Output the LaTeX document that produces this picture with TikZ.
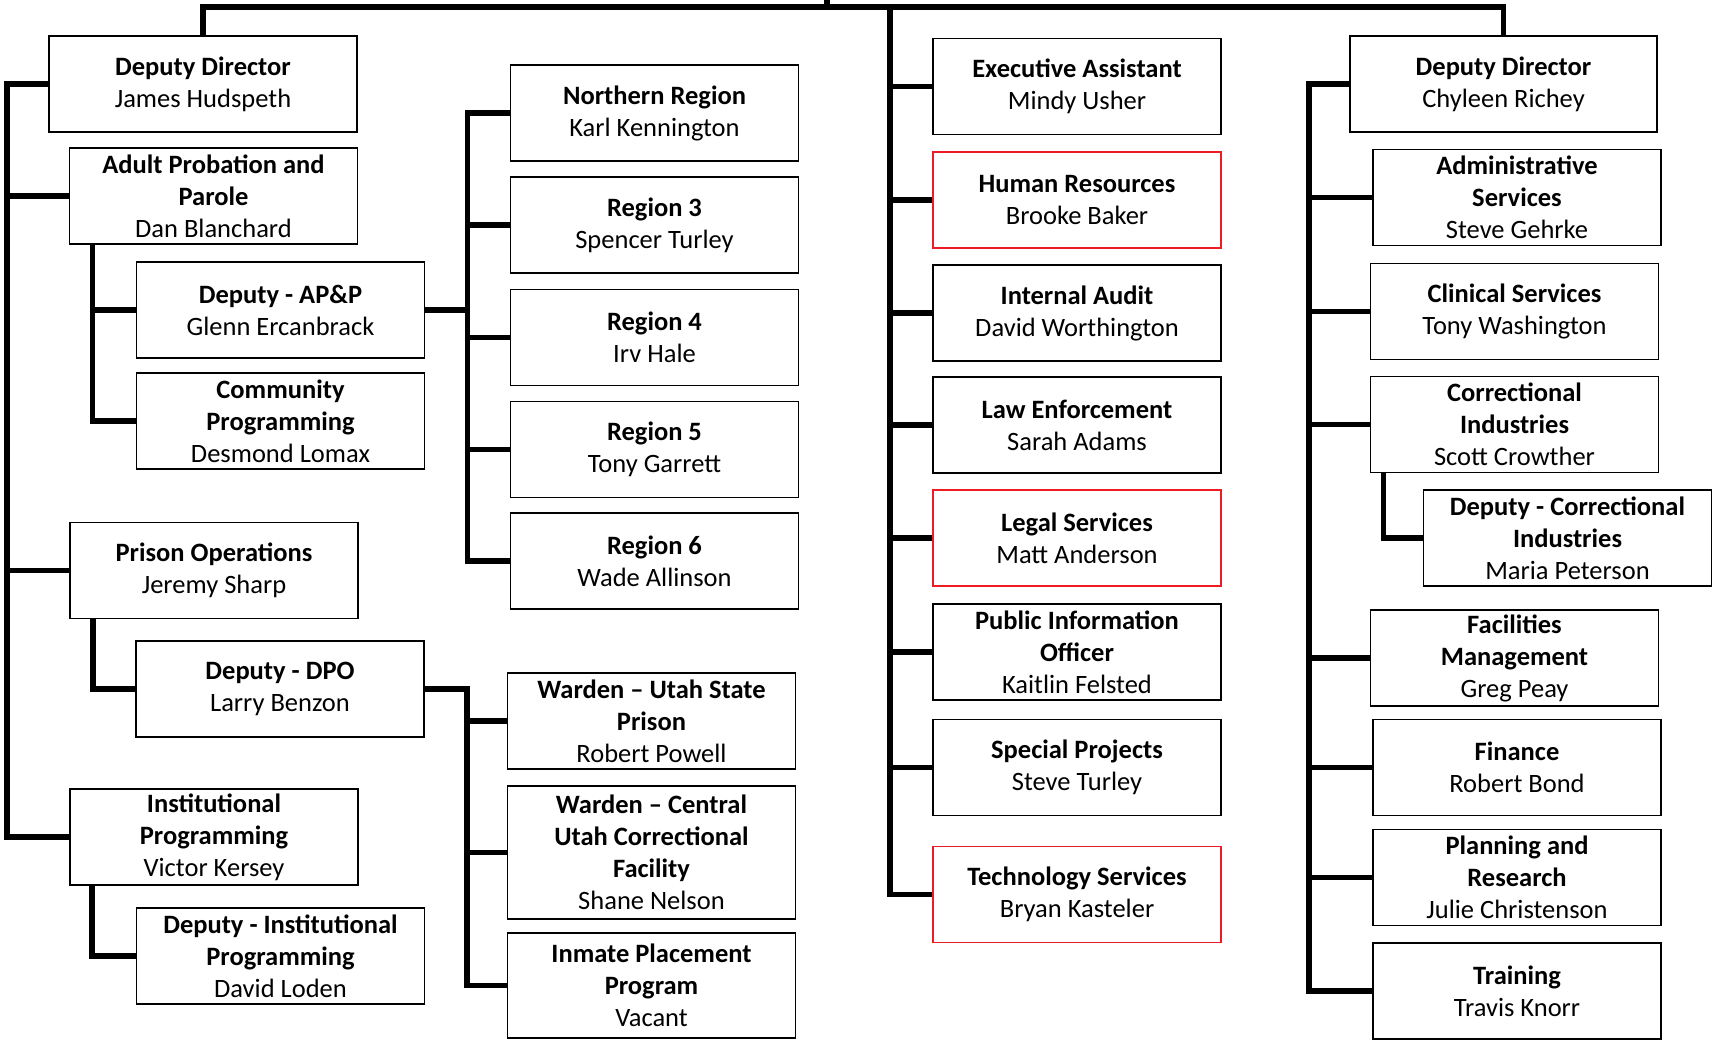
\documentclass[tikz,border=0pt]{standalone}
\usepackage{fontspec}
\setmainfont{Carlito}
\usepackage{xcolor}
\usetikzlibrary{calc, positioning}
\definecolor{boxred}{RGB}{237,28,36}

\begin{document}
\begin{tikzpicture}[x=1pt, y=-1pt,
    unit/.style={draw, line width=1.8pt, minimum width=288pt, minimum height=96pt,
        inner sep=0pt, align=center, font=\fontsize{26.5}{32}\selectfont},
    chief/.style={unit, minimum width=308pt},
    flagged/.style={unit, draw=boxred},
    link/.style={line width=5.5pt}]
    \useasboundingbox (0,0) rectangle (1713,1041);

    % Deputy Director - left branch
    \node[chief] (dd1) at (203,84) {\textbf{Deputy Director}\\James Hudspeth};
    \node[unit] (app) at (213.5,196) {\textbf{Adult Probation and}\\\textbf{Parole}\\Dan Blanchard};
    \node[unit] (dapp) at (280.5,310) {\textbf{Deputy - AP\&P}\\Glenn Ercanbrack};
    \node[unit] (comm) at (280.5,421) {\textbf{Community}\\\textbf{Programming}\\Desmond Lomax};
    \node[unit] (po) at (214,570.5) {\textbf{Prison Operations}\\Jeremy Sharp};
    \node[unit] (ddpo) at (280,689) {\textbf{Deputy - DPO}\\Larry Benzon};
    \node[unit] (ip) at (214,837) {\textbf{Institutional}\\\textbf{Programming}\\Victor Kersey};
    \node[unit] (dip) at (280.5,956) {\textbf{Deputy - Institutional}\\\textbf{Programming}\\David Loden};

    % Regions
    \node[unit] (north) at (654.5,113) {\textbf{Northern Region}\\Karl Kennington};
    \node[unit] (reg3) at (654.5,225) {\textbf{Region 3}\\Spencer Turley};
    \node[unit] (reg4) at (654.5,337.5) {\textbf{Region 4}\\Irv Hale};
    \node[unit] (reg5) at (654.5,449.5) {\textbf{Region 5}\\Tony Garrett};
    \node[unit] (reg6) at (654.5,561) {\textbf{Region 6}\\Wade Allinson};

    % Prisons
    \node[unit] (usp) at (651.5,721) {\textbf{Warden -- Utah State}\\\textbf{Prison}\\Robert Powell};
    \node[unit, minimum height=133pt] (cucf) at (651.5,852.5) {\textbf{Warden -- Central}\\\textbf{Utah Correctional}\\\textbf{Facility}\\Shane Nelson};
    \node[unit, minimum height=105pt] (ipp) at (651.5,985.5) {\textbf{Inmate Placement}\\\textbf{Program}\\Vacant};

    % Staff offices
    \node[unit] (exec) at (1077,86.5) {\textbf{Executive Assistant}\\Mindy Usher};
    \node[flagged] (hr) at (1077,200) {\textbf{Human Resources}\\Brooke Baker};
    \node[unit] (audit) at (1077,313) {\textbf{Internal Audit}\\David Worthington};
    \node[unit] (law) at (1077,425) {\textbf{Law Enforcement}\\Sarah Adams};
    \node[flagged] (legal) at (1077,538) {\textbf{Legal Services}\\Matt Anderson};
    \node[unit] (pio) at (1077,652) {\textbf{Public Information}\\\textbf{Officer}\\Kaitlin Felsted};
    \node[unit] (spec) at (1077,767.5) {\textbf{Special Projects}\\Steve Turley};
    \node[flagged] (tech) at (1077,894.5) {\textbf{Technology Services}\\Bryan Kasteler};

    % Deputy Director - right branch
    \node[chief, minimum width=307pt] (dd2) at (1503.5,84) {\textbf{Deputy Director}\\Chyleen Richey};
    \node[unit] (admin) at (1517,197.5) {\textbf{Administrative}\\\textbf{Services}\\Steve Gehrke};
    \node[unit] (clin) at (1514.5,311.5) {\textbf{Clinical Services}\\Tony Washington};
    \node[unit] (ci) at (1514.5,424.5) {\textbf{Correctional}\\\textbf{Industries}\\Scott Crowther};
    \node[unit] (dci) at (1567.5,538) {\textbf{Deputy - Correctional}\\\textbf{Industries}\\Maria Peterson};
    \node[unit] (fac) at (1514.5,658) {\textbf{Facilities}\\\textbf{Management}\\Greg Peay};
    \node[unit] (fin) at (1517,767.5) {\textbf{Finance}\\Robert Bond};
    \node[unit] (plan) at (1517,877.5) {\textbf{Planning and}\\\textbf{Research}\\Julie Christenson};
    \node[unit] (train) at (1517,991) {\textbf{Training}\\Travis Knorr};

    % Top bus
    \coordinate (top) at (827,0);
    \coordinate (bus) at (827,7);
    \coordinate (mid) at (890,7);
    \draw[link] (top) -- (bus);
    \draw[link] (dd1.north) |- (bus) -| (dd2.north);

    % Left spine
    \coordinate (lsp) at (7,0);
    \draw[link] (dd1.west) -- (dd1.west -| lsp) |- (ip.west);
    \foreach \n in {app,po}
        \draw[link] (\n.west) -- (\n.west -| lsp);

    % Sub branches
    \coordinate (appsp) at ([xshift=24pt]app.south west);
    \draw[link] (appsp) |- (comm.west);
    \draw[link] (dapp.west) -- (dapp.west -| appsp);
    \coordinate (posp) at ([xshift=24pt]po.south west);
    \draw[link] (posp) |- (ddpo.west);
    \coordinate (ipsp) at ([xshift=23pt]ip.south west);
    \draw[link] (ipsp) |- (dip.west);

    % Regions
    \draw[link] (dapp.east) -- ++(42,0) coordinate (rsp);
    \draw[link] (north.west) -- (north.west -| rsp) |- (reg6.west);
    \foreach \n in {reg3,reg4,reg5}
        \draw[link] (\n.west) -- (\n.west -| rsp);

    % Prisons
    \draw[link] (ddpo.east) -- ++(42,0) coordinate (dsp) |- (ipp.west);
    \foreach \n in {usp,cucf}
        \draw[link] (\n.west) -- (\n.west -| dsp);

    % Middle spine
    \draw[link] (mid) |- (tech.west);
    \foreach \n in {exec,hr,audit,law,legal,pio,spec}
        \draw[link] (\n.west) -- (\n.west -| mid);

    % Right spine
    \draw[link] (dd2.west) -- ++(-40,0) coordinate (rs) |- (train.west);
    \foreach \n in {admin,clin,ci,fac,fin,plan}
        \draw[link] (\n.west) -- (\n.west -| rs);
    \coordinate (cisp) at ([xshift=14pt]ci.south west);
    \draw[link] (cisp) |- (dci.west);
\end{tikzpicture}
\end{document}
